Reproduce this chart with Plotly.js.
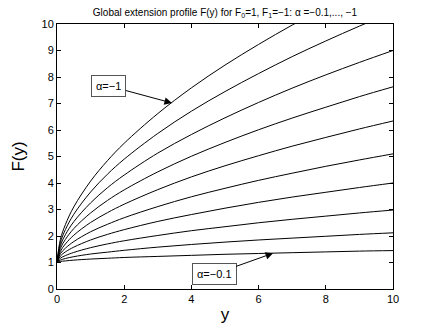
<!DOCTYPE html>
<html>
<head>
<meta charset="utf-8">
<script src="https://cdn.plot.ly/plotly-3.0.1.min.js"></script>
<style>
  html, body { margin: 0; padding: 0; background: #fff; }
  #chart { width: 435px; height: 326px; }
</style>
</head>
<body>
<div id="chart"></div>
<script>
// Sample positions along y, and F(y) for each alpha.
const ySamples = [0, 0.1, 0.25, 0.5, 1, 1.5, 2, 3, 4, 5, 6, 7, 8, 9, 10];
const alphas = [-0.1, -0.2, -0.3, -0.4, -0.5, -0.6, -0.7, -0.8, -0.9, -1];
const F_a01 = [1, 1.04, 1.06, 1.09, 1.13, 1.16, 1.19, 1.23, 1.27, 1.31, 1.34, 1.37, 1.40, 1.43, 1.45];
const F_a02 = [1, 1.09, 1.15, 1.22, 1.32, 1.39, 1.46, 1.58, 1.68, 1.77, 1.85, 1.92, 1.99, 2.06, 2.12];
const F_a03 = [1, 1.16, 1.26, 1.38, 1.56, 1.70, 1.82, 2.02, 2.20, 2.35, 2.50, 2.63, 2.75, 2.87, 2.98];
const F_a04 = [1, 1.24, 1.40, 1.58, 1.85, 2.06, 2.24, 2.55, 2.81, 3.05, 3.27, 3.47, 3.65, 3.83, 4.00];
const F_a05 = [1, 1.33, 1.54, 1.79, 2.16, 2.44, 2.69, 3.11, 3.48, 3.80, 4.10, 4.37, 4.63, 4.87, 5.10];
const F_a06 = [1, 1.42, 1.70, 2.03, 2.51, 2.88, 3.20, 3.75, 4.23, 4.65, 5.03, 5.39, 5.72, 6.04, 6.34];
const F_a07 = [1, 1.53, 1.87, 2.28, 2.87, 3.34, 3.74, 4.42, 5.01, 5.53, 6.01, 6.45, 6.86, 7.26, 7.63];
const F_a08 = [1, 1.64, 2.05, 2.54, 3.25, 3.82, 4.30, 5.13, 5.83, 6.46, 7.04, 7.58, 8.08, 8.55, 9.00];
const F_a09 = [1, 1.75, 2.24, 2.82, 3.66, 4.33, 4.90, 5.87, 6.71, 7.45, 8.13, 8.77, 9.36, 9.92, 10.45];
const F_a10 = [1, 1.87, 2.43, 3.10, 4.07, 4.84, 5.50, 6.62, 7.59, 8.45, 9.23, 9.96, 10.64, 11.29, 11.90];
const curves = [F_a01, F_a02, F_a03, F_a04, F_a05, F_a06, F_a07, F_a08, F_a09, F_a10];

const traces = curves.map((F, i) => ({
  type: "scatter", mode: "lines",
  name: "α=" + alphas[i],
  x: ySamples, y: F,
  line: { color: "#000", width: 1, shape: "spline", smoothing: 1 },
  hoverinfo: "skip",
}));

const FONT = "Liberation Sans, Arial, sans-serif";

const axisBase = {
  showgrid: false, zeroline: false,
  showline: true, linecolor: "#000", linewidth: 1, mirror: "allticks",
  ticks: "inside", ticklen: 4, tickcolor: "#000",
  tickfont: { family: FONT, size: 11, color: "#000" },
};

const layout = {
  width: 435, height: 326,
  paper_bgcolor: "#fff", plot_bgcolor: "#fff",
  margin: { l: 57, r: 42, t: 24, b: 37 },
  showlegend: false,
  font: { family: FONT, color: "#000" },
  title: {
    text: "Global extension profile F(y) for F<sub>0</sub>=1, F<sub>1</sub>=−1: α =−0.1,..., −1",
    font: { size: 10, color: "#000" },
    xref: "paper", x: 0.5, xanchor: "center",
    yref: "container", y: 0.962, yanchor: "middle",
  },
  xaxis: {
    ...axisBase, range: [0, 10], tick0: 0, dtick: 2,
    title: { text: "y", font: { size: 17 }, standoff: 3 },
  },
  yaxis: {
    ...axisBase, range: [0, 10], tick0: 0, dtick: 1,
    title: { text: "F(y)", font: { size: 17 }, standoff: 12 },
  },
  annotations: [
    {
      x: 3.42, y: 7.02, xref: "x", yref: "y",
      text: "α=−1", showarrow: true, arrowhead: 2, arrowsize: 1.5, arrowwidth: 1, arrowcolor: "#000",
      ax: -63, ay: -17,
      bordercolor: "#555", borderwidth: 1, borderpad: 4, bgcolor: "#fff",
      font: { size: 11, color: "#000" },
    },
    {
      x: 6.43, y: 1.35, xref: "x", yref: "y",
      text: "α=−0.1", showarrow: true, arrowhead: 2, arrowsize: 1.5, arrowwidth: 1, arrowcolor: "#000",
      ax: -59, ay: 21,
      bordercolor: "#555", borderwidth: 1, borderpad: 4, bgcolor: "#fff",
      font: { size: 11, color: "#000" },
    },
  ],
};

Plotly.newPlot("chart", traces, layout, { staticPlot: true, displayModeBar: false });
</script>
</body>
</html>
